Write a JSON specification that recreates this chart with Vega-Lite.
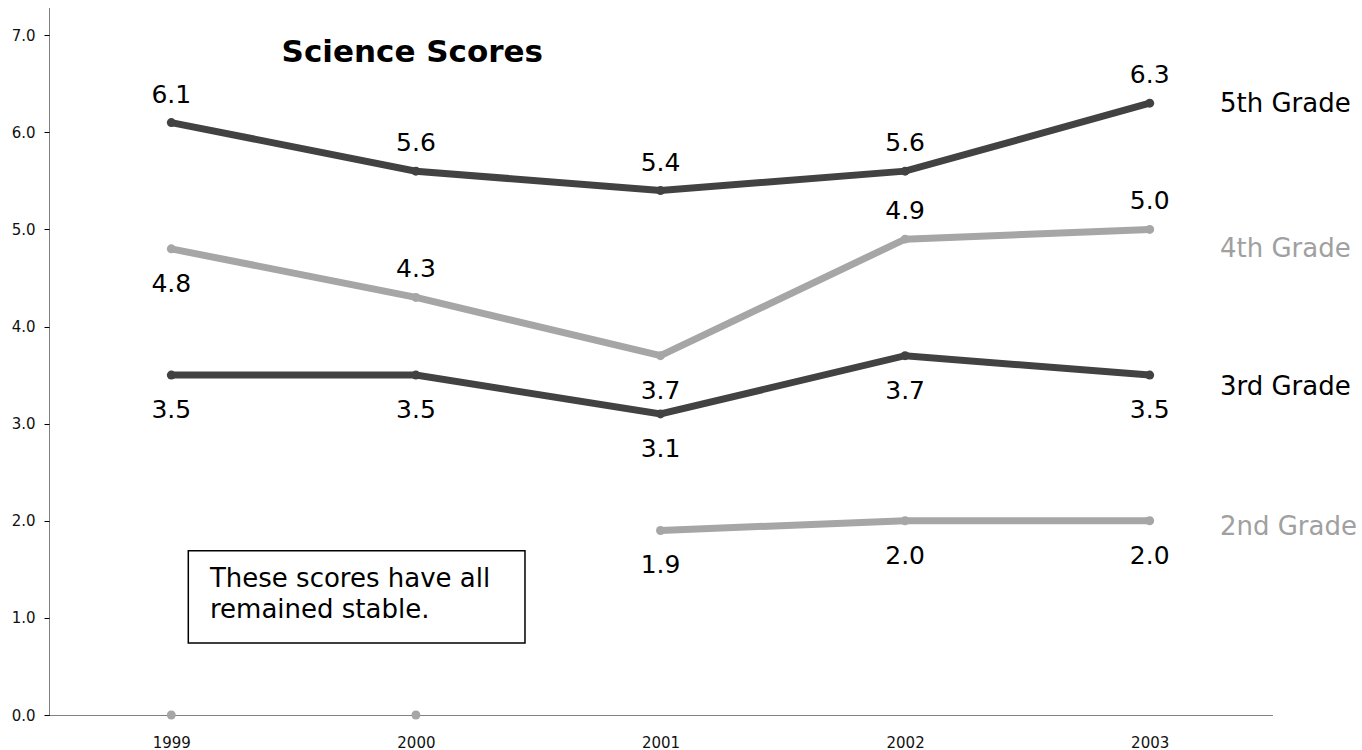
{
  "$schema": "https://vega.github.io/schema/vega-lite/v6.json",
  "width": 1223,
  "height": 707,
  "autosize": "none",
  "padding": {"left": 49, "top": 8, "right": 90, "bottom": 35},
  "background": "white",
  "config": {
    "view": {"stroke": null},
    "font": "DejaVu Sans"
  },
  "datasets": {
    "scores": [
      {"grade": "5th Grade", "year": 1999, "score": 6.1},
      {"grade": "5th Grade", "year": 2000, "score": 5.6},
      {"grade": "5th Grade", "year": 2001, "score": 5.4},
      {"grade": "5th Grade", "year": 2002, "score": 5.6},
      {"grade": "5th Grade", "year": 2003, "score": 6.3},
      {"grade": "4th Grade", "year": 1999, "score": 4.8},
      {"grade": "4th Grade", "year": 2000, "score": 4.3},
      {"grade": "4th Grade", "year": 2001, "score": 3.7},
      {"grade": "4th Grade", "year": 2002, "score": 4.9},
      {"grade": "4th Grade", "year": 2003, "score": 5.0},
      {"grade": "3rd Grade", "year": 1999, "score": 3.5},
      {"grade": "3rd Grade", "year": 2000, "score": 3.5},
      {"grade": "3rd Grade", "year": 2001, "score": 3.1},
      {"grade": "3rd Grade", "year": 2002, "score": 3.7},
      {"grade": "3rd Grade", "year": 2003, "score": 3.5},
      {"grade": "2nd Grade", "year": 1999, "score": 0},
      {"grade": "2nd Grade", "year": 2000, "score": 0},
      {"grade": "2nd Grade", "year": 2001, "score": 1.9},
      {"grade": "2nd Grade", "year": 2002, "score": 2.0},
      {"grade": "2nd Grade", "year": 2003, "score": 2.0}
    ],
    "seriesLabels": [
      {"label": "5th Grade", "lx": 2003.287, "ly": 6.212},
      {"label": "4th Grade", "lx": 2003.287, "ly": 4.719},
      {"label": "3rd Grade", "lx": 2003.287, "ly": 3.295},
      {"label": "2nd Grade", "lx": 2003.287, "ly": 1.853}
    ],
    "titleRow": [{"label": "Science Scores", "lx": 1999.451, "ly": 6.727}],
    "boxRow": [{"x1": 1999.0695, "x2": 2000.446, "y1": 1.692, "y2": 0.741}],
    "noteRow": [{"lx": 1999.158, "ly": 1.321}]
  },
  "layer": [
    {
      "data": {"name": "scores"},
      "transform": [{"filter": "datum.score > 0"}],
      "mark": {"type": "line", "strokeWidth": 7},
      "encoding": {
        "x": {"field": "year", "type": "quantitative", "scale": {"domain": [1998.5, 2003.5], "nice": false, "zero": false},
          "axis": {"values": [1999, 2000, 2001, 2002, 2003], "format": "d", "ticks": false, "labelPadding": 20, "grid": false, "title": null,
            "labelFontSize": 15, "labelColor": "#111111", "labelFont": "DejaVu Sans", "domainColor": "#000000", "domainWidth": 1, "domainDash": [1, 1]}},
        "y": {"field": "score", "type": "quantitative", "scale": {"domain": [0, 7.28], "nice": false},
          "axis": {"values": [0, 1, 2, 3, 4, 5, 6, 7], "format": ".1f", "tickSize": 5, "tickColor": "#000000", "labelPadding": 9, "grid": false, "title": null,
            "labelFontSize": 15, "labelColor": "#111111", "labelFont": "DejaVu Sans", "domainColor": "#000000", "domainWidth": 1, "domainDash": [1, 1]}},
        "detail": {"field": "grade"},
        "color": {"field": "grade", "type": "nominal", "legend": null,
          "scale": {"domain": ["5th Grade", "4th Grade", "3rd Grade", "2nd Grade"], "range": ["#424242", "#a6a6a6", "#424242", "#a6a6a6"]}}
      }
    },
    {
      "data": {"name": "scores"},
      "mark": {"type": "circle", "size": 80, "opacity": 1},
      "encoding": {
        "x": {"field": "year", "type": "quantitative"},
        "y": {"field": "score", "type": "quantitative"},
        "color": {"field": "grade", "type": "nominal", "legend": null,
          "scale": {"domain": ["5th Grade", "4th Grade", "3rd Grade", "2nd Grade"], "range": ["#424242", "#a6a6a6", "#424242", "#a6a6a6"]}}
      }
    },
    {
      "data": {"name": "scores"},
      "transform": [{"filter": "datum.grade == '5th Grade' || (datum.grade == '4th Grade' && datum.year != 1999 && datum.year != 2001)"}],
      "mark": {"type": "text", "fontSize": 25, "align": "center", "baseline": "alphabetic", "dy": -20, "color": "#000000"},
      "encoding": {
        "x": {"field": "year", "type": "quantitative"},
        "y": {"field": "score", "type": "quantitative"},
        "text": {"field": "score", "type": "quantitative", "format": ".1f"}
      }
    },
    {
      "data": {"name": "scores"},
      "transform": [{"filter": "datum.score > 0 && !(datum.grade == '5th Grade' || (datum.grade == '4th Grade' && datum.year != 1999 && datum.year != 2001))"}],
      "mark": {"type": "text", "fontSize": 25, "align": "center", "baseline": "alphabetic", "dy": 43, "color": "#000000"},
      "encoding": {
        "x": {"field": "year", "type": "quantitative"},
        "y": {"field": "score", "type": "quantitative"},
        "text": {"field": "score", "type": "quantitative", "format": ".1f"}
      }
    },
    {
      "data": {"name": "titleRow"},
      "mark": {"type": "text", "fontSize": 31, "fontWeight": "bold", "align": "left", "baseline": "alphabetic", "color": "#000000"},
      "encoding": {
        "x": {"field": "lx", "type": "quantitative"},
        "y": {"field": "ly", "type": "quantitative"},
        "text": {"field": "label"}
      }
    },
    {
      "data": {"name": "seriesLabels"},
      "mark": {"type": "text", "fontSize": 26, "align": "left", "baseline": "alphabetic"},
      "encoding": {
        "x": {"field": "lx", "type": "quantitative"},
        "y": {"field": "ly", "type": "quantitative"},
        "text": {"field": "label"},
        "color": {"field": "label", "type": "nominal", "legend": null,
          "scale": {"domain": ["5th Grade", "4th Grade", "3rd Grade", "2nd Grade"], "range": ["#000000", "#a0a0a0", "#000000", "#a0a0a0"]}}
      }
    },
    {
      "data": {"name": "boxRow"},
      "mark": {"type": "rect", "fill": "white", "stroke": "#000000", "strokeWidth": 1.5},
      "encoding": {
        "x": {"field": "x1", "type": "quantitative"},
        "x2": {"field": "x2"},
        "y": {"field": "y1", "type": "quantitative"},
        "y2": {"field": "y2"}
      }
    },
    {
      "data": {"name": "noteRow"},
      "mark": {"type": "text", "text": ["These scores have all", "remained stable."], "fontSize": 26, "lineHeight": 31.6, "align": "left", "baseline": "alphabetic", "color": "#000000"},
      "encoding": {
        "x": {"field": "lx", "type": "quantitative"},
        "y": {"field": "ly", "type": "quantitative"}
      }
    }
  ],
  "resolve": {"scale": {"color": "independent"}}
}
